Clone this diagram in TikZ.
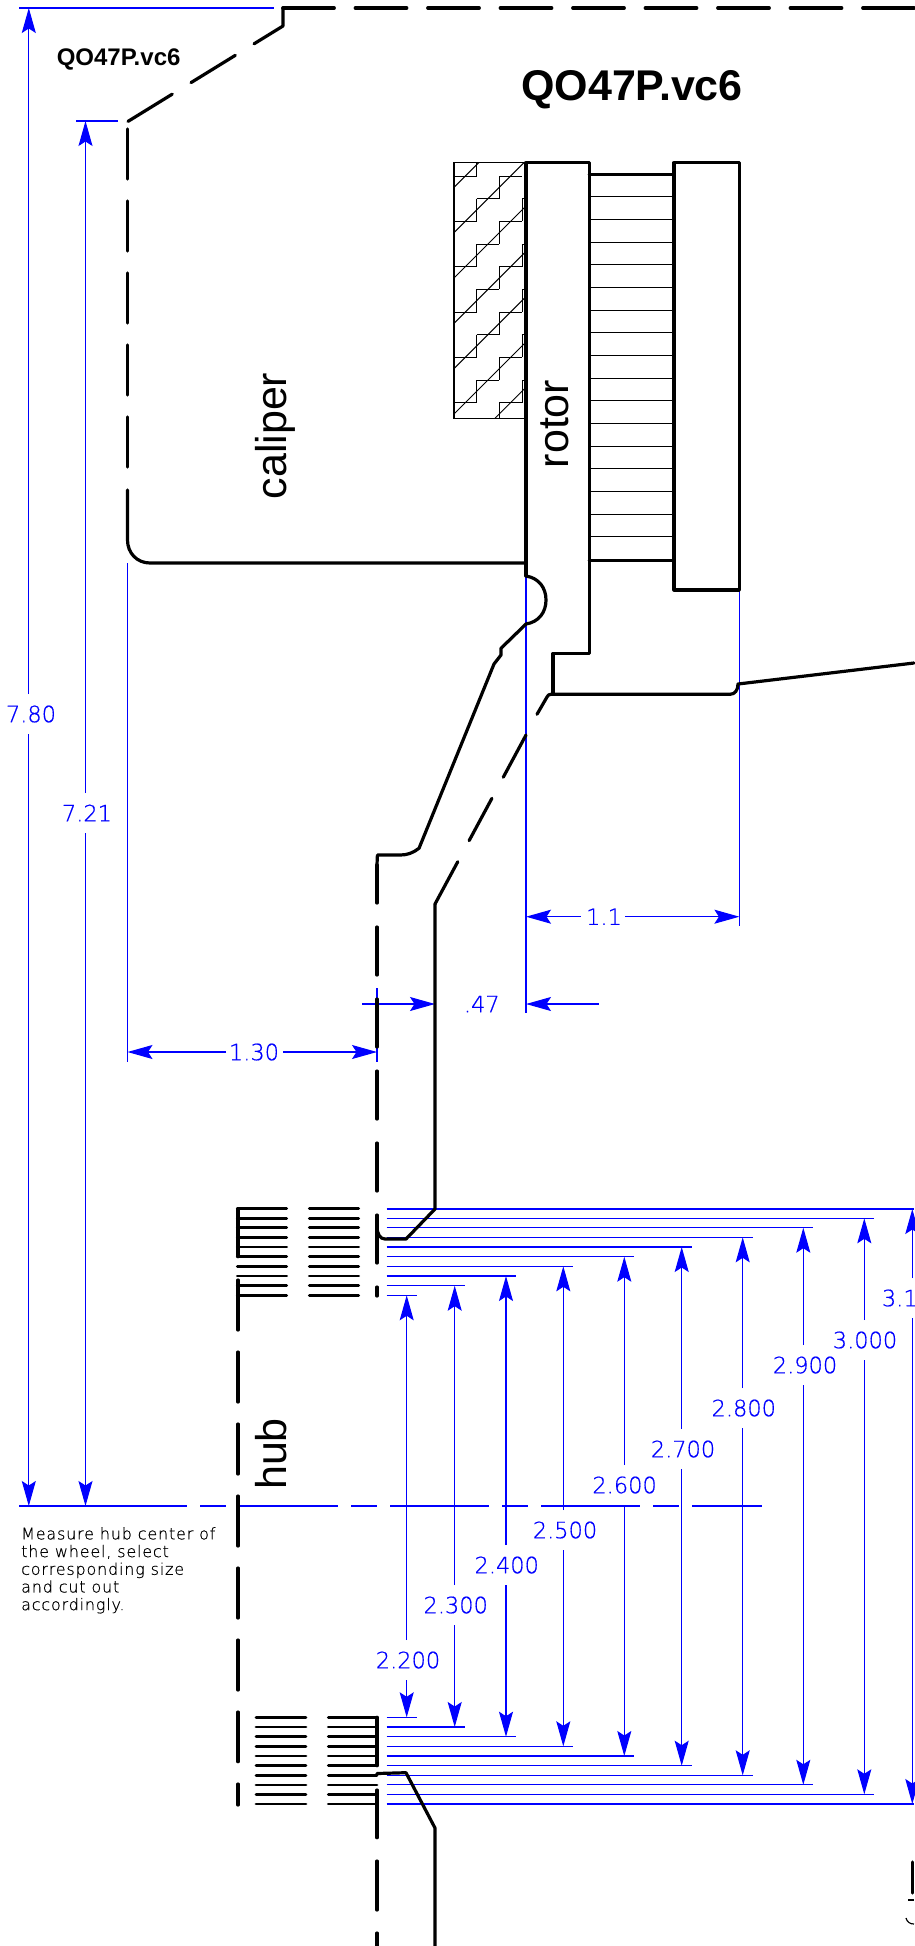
\documentclass[tikz,border=0pt]{standalone}
\usepackage{fontspec}
\setmainfont{Liberation Sans}
\newfontfamily\dimfont{DejaVu Sans ExtraLight}[FakeBold=0.5]
\newfontfamily\notefont{DejaVu Sans ExtraLight}[FakeBold=0.5,LetterSpace=5]
\usetikzlibrary{arrows.meta}
\tikzset{
  part/.style={line width=3.2pt,line cap=round,line join=round,black},
  fine/.style={line width=1pt,black},
  comb/.style={line width=2.9pt,line cap=round,black},
  dim/.style={line width=1.1pt,draw=blue},
  dimarrow/.style={dim,-{Stealth[length=25pt,width=14pt,inset=4.5pt]}},
  dimtext/.style={text=blue,font=\dimfont\fontsize{22.5}{24}\selectfont,inner sep=0pt},
  partlabel/.style={font=\fontsize{43}{45}\selectfont,rotate=90,anchor=base,inner sep=0pt},
  titletext/.style={font=\bfseries,inner sep=0pt}
}
\begin{document}
\begin{tikzpicture}[x=1pt,y=-1pt]
\useasboundingbox (0,0) rectangle (914,1946);
\fill[white] (0,0) rectangle (914,1946);
% ---- hatching
\begin{scope}
\clip (454,162.7) rectangle (525,418.3);
\foreach \k in {0,...,6}{
  \pgfmathsetmacro\ya{187.3+45.33*\k}
  \pgfmathsetmacro\yb{\ya-300}
  \draw[fine] (454,\ya) -- (754,\yb);
}
\foreach \k in {0,2,4,6,8,10}{
  \pgfmathsetmacro\yy{176+22.67*\k}
  \pgfmathsetmacro\yn{\yy+22.67}
  \draw[fine] (454,\yy) -- (476.7,\yy) (499.3,\yy) -- (522,\yy);
  \draw[fine] (499.3,\yy) -- (499.3,\yn);
}
\foreach \k in {1,3,5,7,9}{
  \pgfmathsetmacro\yy{176+22.67*\k}
  \pgfmathsetmacro\yn{\yy+22.67}
  \draw[fine] (476.7,\yy) -- (499.3,\yy) (522,\yy) -- (526,\yy);
  \draw[fine] (476.7,\yy) -- (476.7,\yn) (522,\yy) -- (522,\yn);
}
\draw[fine] (476.7,162.7) -- (476.7,176);
\end{scope}
\draw[line width=1.5pt] (526,162.7) -- (454,162.7) -- (454,418.3) -- (526,418.3);
% ---- pad lines
\foreach \k in {0,...,15}{
  \pgfmathsetmacro\yy{196.7+22.67*\k}
  \draw[fine] (589,\yy) -- (674,\yy);
}
% ---- dimension lines
\draw[dim] (19,8) -- (274,8);
\draw[dim] (76,121) -- (118,121);
\draw[dimarrow] (28.8,694) -- (28.8,8);
\draw[dimarrow] (28.8,734) -- (28.8,1506);
\draw[dimarrow] (85.5,793) -- (85.5,121);
\draw[dimarrow] (85.5,833) -- (85.5,1506);
\node[dimtext] (l780) at (31,714) {7.80};
\node[dimtext] (l721) at (87,813) {7.21};
\draw[dim] (19,1506) -- (90,1506);
\draw[dim,dash pattern=on 99pt off 13pt on 26pt off 13pt] (88,1506) -- (762,1506);
% 1.30
\draw[dim] (127.5,563) -- (127.5,1062);
\draw[dim] (377,988) -- (377,1062);
\draw[dimarrow] (226,1052) -- (127.5,1052);
\draw[dimarrow] (283,1052) -- (377,1052);
\node[dimtext] (l130) at (254,1052) {1.30};
% 1.1
\draw[dim] (526,576) -- (526,1013);
\draw[dim] (739.4,590) -- (739.4,926);
\draw[dimarrow] (580.6,916.7) -- (526,916.7);
\draw[dimarrow] (625,916.7) -- (739.4,916.7);
\node[dimtext] (l11) at (604,916.7) {1.1};
% .47
\draw[dimarrow] (362.3,1004) -- (435,1004);
\draw[dimarrow] (598.6,1004) -- (526,1004);
\node[dimtext] (l47) at (481.8,1004) {.47};
% hub extension lines
\foreach \yy/\xe in {1209/914,1218.3/874,1227.7/813.3,1237.3/752.7,1247/691.7,1256.7/634,1266.3/573.3,1276/516,1285.7/464.7,1295.3/416.7,
  1804/914,1794.3/874,1784.8/813.3,1775.3/752.7,1765.7/691.7,1756/634,1746.3/573.3,1736.7/516,1727/464.7,1717.3/416.7}{
  \draw[dim] (386.7,\yy) -- (\xe,\yy);
}
% hub vertical dimensions
\foreach \x/\yt/\yb/\ym/\lx/\lab in {406.7/1295.3/1717.3/1660/408/2.200,
  454.7/1285.7/1727/1605/455.7/2.300,
  506/1276/1736.7/1565/506.7/2.400,
  563.3/1266.3/1746.3/1530/565/2.500,
  624.3/1256.7/1756/1485/624.6/2.600,
  681.7/1247/1765.7/1449/683/2.700,
  742.7/1237.3/1775.3/1408/743.8/2.800,
  803.3/1227.7/1784.8/1365/805/2.900,
  864.3/1218.3/1794.3/1340/865/3.000}{
  \pgfmathsetmacro\ya{\ym-20}
  \pgfmathsetmacro\yc{\ym+20}
  \draw[dimarrow] (\x,\ya) -- (\x,\yt);
  \draw[dimarrow] (\x,\yc) -- (\x,\yb);
  \node[dimtext] (l\lab) at (\lx,\ym) {\lab};
}
\draw[dimarrow] (912.3,1278) -- (912.3,1209);
\draw[dimarrow] (912.3,1318) -- (912.3,1804);
\node[dimtext,anchor=west] (l31) at (881.7,1298) {3.1};
% ---- outline
\draw[part,line width=3.8pt,dash pattern=on 51pt off 21.5pt] (283,8) -- (914,8);
\draw[part,dash pattern=on 52pt off 22pt] (283,8) -- (283,26) -- (127.5,121.7);
\draw[part,dash pattern=on 50pt off 22pt] (127.5,129) -- (127.5,470);
\draw[part] (127.5,490) -- (127.5,540) .. controls (127.5,553) and (137,563) .. (150,563) -- (526,563);
% rotor
\draw[part] (526,576) -- (526,162.7) -- (589.3,162.7) -- (589.3,653.3) -- (553,653.3) -- (553,694.3);
\draw[part] (526,576) .. controls (539,578) and (546,588) .. (546,600) .. controls (546,612) and (539,622) .. (526,624)
  -- (501,648.3) -- (501,655) -- (494,664) -- (419,848.3) .. controls (413,853) and (407,855) .. (400.4,855)
  -- (377.4,855) -- (377,865);
\draw[part] (589.3,174.7) -- (674,174.7);
\draw[part] (589.3,560.7) -- (674,560.7);
\draw[part] (674,590) rectangle (739.4,162.7);
% hub skirt dashed
\draw[part] (377,865) -- (377,903);
\draw[part,dash pattern=on 48pt off 24pt] (377,927) -- (377,1193);
\draw[part] (377,1215) -- (377,1263);
\draw[part] (377,1287) -- (377,1296);
\draw[part] (377,1226) .. controls (377,1234) and (380,1239) .. (385,1239) -- (406,1239) -- (435,1209) -- (435,904);
\draw[part,dash pattern=on 48pt off 24pt] (435,904) -- (526,735);
\draw[part] (537,714.3) -- (547,697) .. controls (548,695) and (549,694.3) .. (551,694.3) -- (730,694.3)
  .. controls (735,694.3) and (738,690) .. (738,684) -- (914,663);
\draw[part] (377,1773.5) -- (406,1772.7) -- (435,1828) -- (435,1946);
\draw[part] (377,1717.3) -- (377,1765.7);
\draw[part] (377,1790) -- (377,1837.7);
\draw[part] (377,1861) -- (377,1910);
\draw[part] (377,1933) -- (377,1946);
% combs
\foreach \yy in {1208.7,1218.3,1227.7,1237.3,1247,1256.7,1266.3,1276,1285.7,1295.3}{
  \draw[comb] (237.3,\yy) -- (286.7,\yy);
  \draw[comb] (309.3,\yy) -- (358.7,\yy);
}
\foreach \yy in {1717.3,1727,1736.7,1746.3,1756,1765.7,1775.3,1785,1794.3,1804}{
  \draw[comb] (256,\yy) -- (306,\yy);
  \draw[comb] (328.3,\yy) -- (377,\yy);
}
% hub axis
\draw[part] (238,1208.7) -- (238,1256.7);
\draw[part,dash pattern=on 50pt off 22pt] (238,1280) -- (238,1761.7);
\draw[part] (238,1784) -- (238,1805);
% corner fragment
\draw[part] (912.5,1862) -- (912.5,1893);
\draw[line width=1.2pt] (908,1900) -- (914,1900);
\draw[line width=1.2pt] (906,1918) .. controls (907,1922) and (910,1924) .. (914,1924);
% ---- texts
\node[titletext,font=\bfseries\fontsize{24}{26}\selectfont] (small) at (118.6,59) {QO47P.vc6};
\node[titletext,font=\bfseries\fontsize{43}{45}\selectfont] (big) at (632,90) {QO47P.vc6};
\node[partlabel] (caliper) at (286,436) {caliper};
\node[partlabel] (rotor) at (568.5,424) {rotor};
\node[partlabel] (hub) at (286.5,1454) {hub};
\node[anchor=north west,inner sep=0pt,align=left,font=\notefont\fontsize{16}{17.7}\selectfont] (note) at (21,1527)
  {Measure hub center of\\the wheel, select\\corresponding size\\and cut out\\accordingly.};
\end{tikzpicture}
\end{document}
